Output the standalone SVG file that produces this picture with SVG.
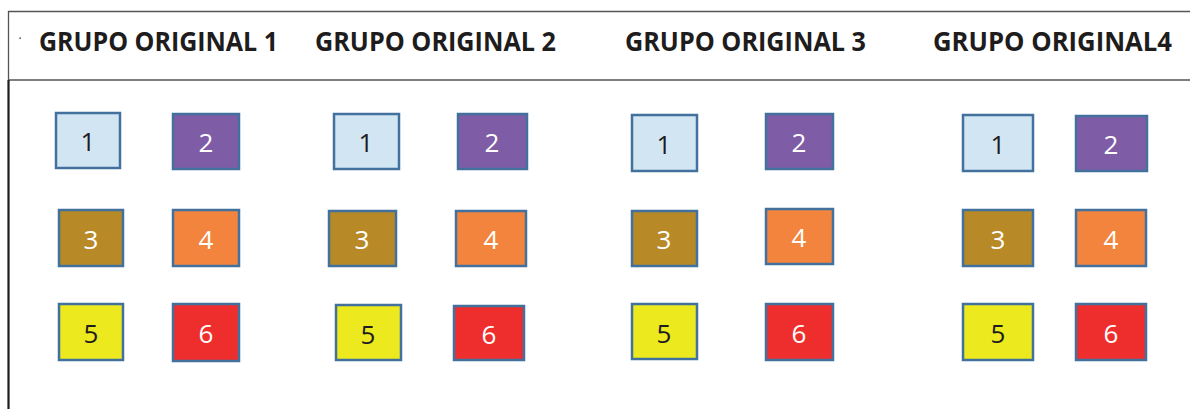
<svg xmlns="http://www.w3.org/2000/svg" width="1190" height="409" viewBox="0 0 1190 409">
<style>
.frame{stroke:#555;stroke-width:1.3;fill:none}
.hdr{font-family:"Open Sans","Noto Sans",sans-serif;font-weight:bold;font-size:27px;fill:#1e1c1c}
.b{stroke:#41719C;stroke-width:2.5}
.n{font-family:"Open Sans","Noto Sans",sans-serif;font-size:26px;text-anchor:middle}
.dk{fill:#1e1c1c}.wt{fill:#ffffff}
.c1{fill:#D2E5F3}.c2{fill:#7F5CA6}.c3{fill:#B78A27}.c4{fill:#F3843E}.c5{fill:#ECE91F}.c6{fill:#EE2E2D}
</style>
<g id="frame">
<line class="frame" x1="8" y1="11.5" x2="1190" y2="11.5"/>
<line class="frame" x1="8" y1="80" x2="1190" y2="80" stroke-width="1.8"/>
<line class="frame" x1="8.5" y1="11" x2="8.5" y2="80"/>
<line x1="8.5" y1="80" x2="8.5" y2="409" stroke="#1e1c1c" stroke-width="2.2"/>
<rect x="19.5" y="37.5" width="1.3" height="1.3" fill="#1e1c1c"/>
</g>
<g id="headers">
<text class="hdr" x="39" y="50.5" textLength="239" lengthAdjust="spacingAndGlyphs">GRUPO ORIGINAL 1</text>
<text class="hdr" x="315" y="50.5" textLength="241" lengthAdjust="spacingAndGlyphs">GRUPO ORIGINAL 2</text>
<text class="hdr" x="625" y="50.5" textLength="241" lengthAdjust="spacingAndGlyphs">GRUPO ORIGINAL 3</text>
<text class="hdr" x="933" y="50.5" textLength="239" lengthAdjust="spacingAndGlyphs">GRUPO ORIGINAL4</text>
</g>
<g id="connectors"/>
<!-- Group 1 -->
<g id="g1-1"><rect class="b c1" x="56" y="113" width="64" height="55"/><text class="n dk" x="88" y="151">1</text></g>
<g id="g1-2"><rect class="b c2" x="173" y="114" width="66" height="55"/><text class="n wt" x="206" y="152">2</text></g>
<g id="g1-3"><rect class="b c3" x="59" y="210" width="64" height="56"/><text class="n wt" x="91" y="249">3</text></g>
<g id="g1-4"><rect class="b c4" x="173" y="210" width="66" height="56"/><text class="n wt" x="206" y="249">4</text></g>
<g id="g1-5"><rect class="b c5" x="59" y="304" width="64" height="56"/><text class="n dk" x="91" y="343">5</text></g>
<g id="g1-6"><rect class="b c6" x="173" y="304" width="66" height="57"/><text class="n wt" x="206" y="343">6</text></g>
<!-- Group 2 -->
<g id="g2-1"><rect class="b c1" x="334" y="114" width="65" height="55"/><text class="n dk" x="366" y="152">1</text></g>
<g id="g2-2"><rect class="b c2" x="458" y="114" width="69" height="55"/><text class="n wt" x="492" y="152">2</text></g>
<g id="g2-3"><rect class="b c3" x="329" y="211" width="67" height="55"/><text class="n wt" x="362" y="249">3</text></g>
<g id="g2-4"><rect class="b c4" x="456" y="211" width="70" height="55"/><text class="n wt" x="491" y="249">4</text></g>
<g id="g2-5"><rect class="b c5" x="336" y="305" width="65" height="55"/><text class="n dk" x="368" y="344">5</text></g>
<g id="g2-6"><rect class="b c6" x="454" y="306" width="70" height="54"/><text class="n wt" x="489" y="344">6</text></g>
<!-- Group 3 -->
<g id="g3-1"><rect class="b c1" x="632" y="115" width="65" height="56"/><text class="n dk" x="664" y="154">1</text></g>
<g id="g3-2"><rect class="b c2" x="766" y="114" width="67" height="55"/><text class="n wt" x="799" y="152">2</text></g>
<g id="g3-3"><rect class="b c3" x="632" y="211" width="65" height="55"/><text class="n wt" x="664" y="249">3</text></g>
<g id="g3-4"><rect class="b c4" x="766" y="209" width="67" height="55"/><text class="n wt" x="799" y="247">4</text></g>
<g id="g3-5"><rect class="b c5" x="632" y="304" width="65" height="55"/><text class="n dk" x="664" y="343">5</text></g>
<g id="g3-6"><rect class="b c6" x="766" y="304" width="67" height="56"/><text class="n wt" x="799" y="343">6</text></g>
<!-- Group 4 -->
<g id="g4-1"><rect class="b c1" x="963" y="115" width="70" height="56"/><text class="n dk" x="998" y="154">1</text></g>
<g id="g4-2"><rect class="b c2" x="1076" y="116" width="71" height="55"/><text class="n wt" x="1111" y="154">2</text></g>
<g id="g4-3"><rect class="b c3" x="963" y="210" width="70" height="56"/><text class="n wt" x="998" y="249">3</text></g>
<g id="g4-4"><rect class="b c4" x="1076" y="210" width="70" height="56"/><text class="n wt" x="1111" y="249">4</text></g>
<g id="g4-5"><rect class="b c5" x="963" y="304" width="70" height="56"/><text class="n dk" x="998" y="343">5</text></g>
<g id="g4-6"><rect class="b c6" x="1076" y="304" width="70" height="56"/><text class="n wt" x="1111" y="343">6</text></g>
</svg>
